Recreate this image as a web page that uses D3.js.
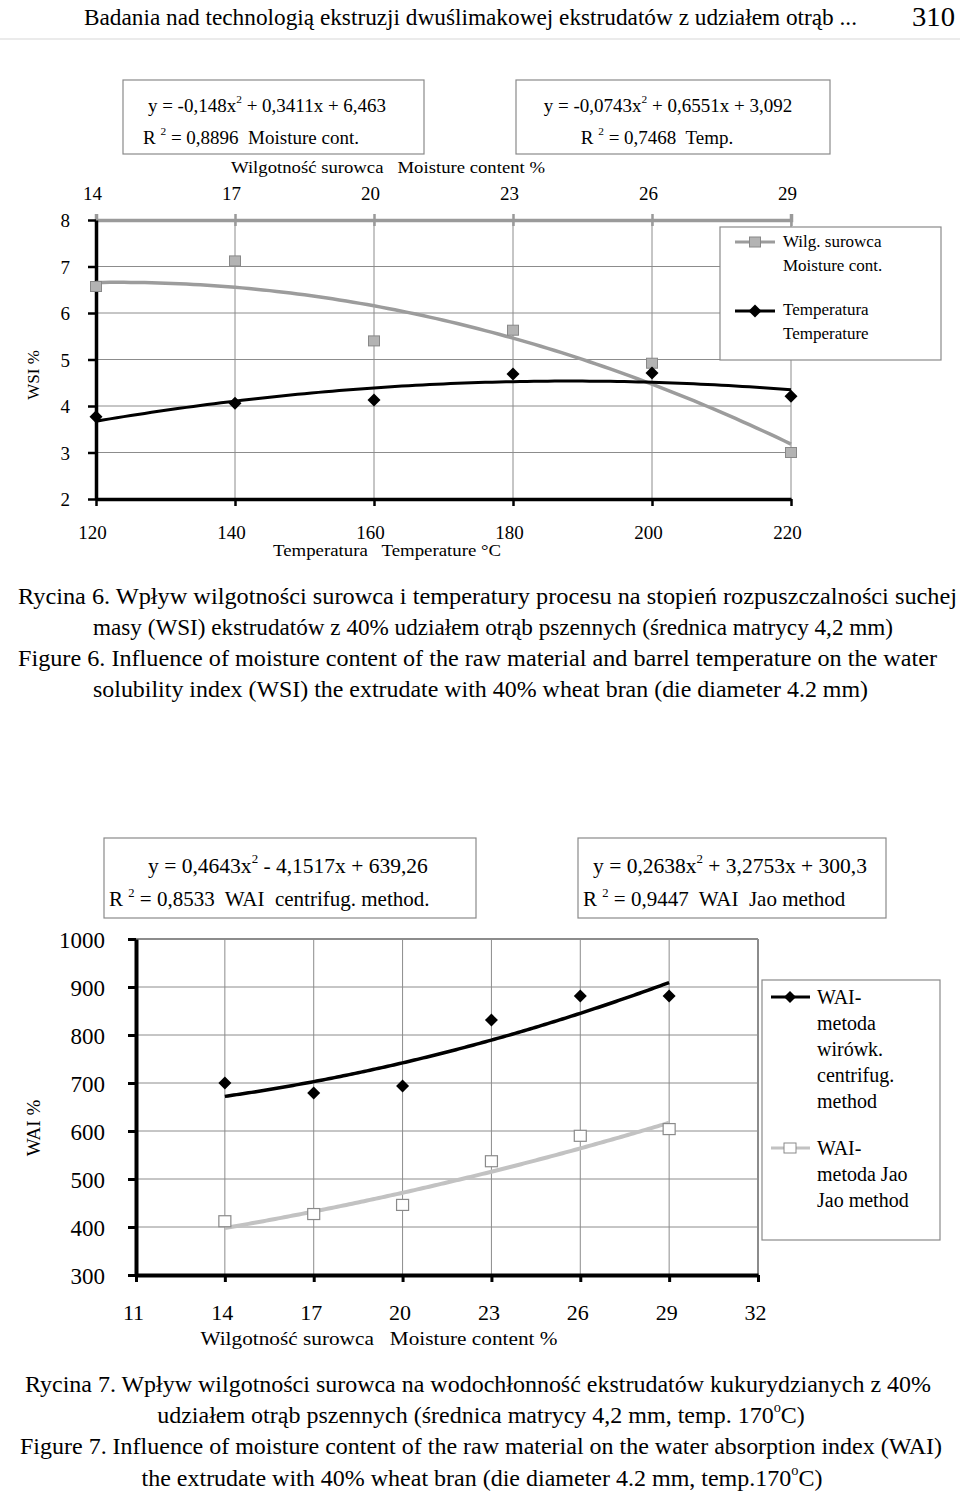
<!DOCTYPE html>
<html><head><meta charset="utf-8">
<script src="https://cdn.jsdelivr.net/npm/d3@7"></script>
<style>
body{margin:0;background:#fff}
svg{display:block}
text{font-family:"Liberation Serif","Times New Roman",serif;fill:#000;white-space:pre}
</style>
</head><body><svg id="c" width="960" height="1491"></svg>
<script>
// ---------- DATA ----------
// Figure 6 (WSI)
const temperatureTicks = [120, 140, 160, 180, 200, 220];
const moistureTicks1 = [14, 17, 20, 23, 26, 29];
const wsiTicks = [2, 3, 4, 5, 6, 7, 8];
const wsiMoisture = [6.57, 7.12, 5.40, 5.63, 4.92, 3.00];     // gray squares, vs moisture 14..29
const wsiTemperature = [3.77, 4.06, 4.13, 4.69, 4.71, 4.21];  // black diamonds, vs temperature 120..220
const fitMoisture = [-0.148, 0.3411, 6.463];     // printed trend coefficients (x = point number 1..6)
const fitTemperature = [-0.0743, 0.6551, 3.092];

// Figure 7 (WAI)
const moistureTicks2 = [11, 14, 17, 20, 23, 26, 29, 32];
const moisture2 = [14, 17, 20, 23, 26, 29];
const waiTicks = [300, 400, 500, 600, 700, 800, 900, 1000];
const waiCentrifug = [700, 679, 694, 831, 881, 881];
const waiJao = [412, 427, 446, 537, 590, 604];
const fitCentrifug = [0.4643, -4.1517, 639.26];  // printed trend coefficients (x = moisture %)
const fitJao = [0.2638, 3.2753, 300.3];

// ---------- HELPERS ----------
const svg = d3.select("#c");
const FONT = '"Liberation Serif","Times New Roman",serif';
const poly = (c, x) => c[0] * x * x + c[1] * x + c[2];
const diamond = h => `M0,${-h}L${h},0L0,${h}L${-h},0Z`;

function txt(x, y, s, size, opts = {}) {
  const t = svg.append("text").attr("x", x).attr("y", y).attr("font-size", size).text(s);
  if (opts.anchor) t.attr("text-anchor", opts.anchor);
  if (opts.len) t.attr("textLength", opts.len).attr("lengthAdjust", "spacingAndGlyphs");
  return t;
}
function supText(x, y, parts, size, anchor) {
  const t = svg.append("text").attr("x", x).attr("y", y).attr("font-size", size);
  if (anchor) t.attr("text-anchor", anchor);
  let raised = false;
  parts.forEach(([s, sup]) => {
    const sp = t.append("tspan").text(s);
    if (sup) { sp.attr("font-size", size * 0.6).attr("dy", -size * 0.45); raised = true; }
    else if (raised) { sp.attr("dy", size * 0.45); raised = false; }
  });
  return t;
}
function box(x, y, w, h) {
  svg.append("rect").attr("x", x).attr("y", y).attr("width", w).attr("height", h)
    .attr("fill", "#fff").attr("stroke", "#8a8a8a").attr("stroke-width", 1.2);
}
function styleTicks(sel, size) {
  sel.selectAll(".tick text").attr("font-size", size).attr("font-family", FONT).attr("fill", "#000");
}

// ---------- HEADER ----------
txt(84, 25, "Badania nad technologią ekstruzji dwuślimakowej ekstrudatów z udziałem otrąb ...", 24, {len: 773});
txt(912, 26, "310", 27, {len: 43});
svg.append("line").attr("x1", 0).attr("x2", 960).attr("y1", 39).attr("y2", 39).attr("stroke", "#e4e4e4").attr("stroke-width", 1.5);

// ---------- FIGURE 6 ----------
{
  const L = 96, R = 791, T = 220, B = 499;
  const xT = d3.scaleLinear().domain([120, 220]).range([L, R]);
  const xM = d3.scaleLinear().domain([14, 29]).range([L, R]);
  const xI = d3.scaleLinear().domain([1, 6]).range([L, R]);
  const y = d3.scaleLinear().domain([2, 8]).range([B, T]);
  const g = svg.append("g");

  g.selectAll(".gv").data(temperatureTicks.slice(1)).join("line")
    .attr("x1", d => xT(d)).attr("x2", d => xT(d)).attr("y1", T).attr("y2", B)
    .attr("stroke", "#8c8c8c").attr("stroke-width", 1);
  g.selectAll(".gh").data(wsiTicks.slice(1, -1)).join("line")
    .attr("x1", L).attr("x2", R).attr("y1", d => y(d)).attr("y2", d => y(d))
    .attr("stroke", "#8c8c8c").attr("stroke-width", 1);

  const top = g.append("g").attr("transform", `translate(0,${T})`)
    .call(d3.axisTop(xM).tickValues(moistureTicks1).tickSize(6).tickPadding(0));
  top.select(".domain").attr("stroke", "#9a9a9a").attr("stroke-width", 3.5);
  top.selectAll(".tick line").attr("stroke", "#9a9a9a").attr("stroke-width", 2.5).attr("y1", 6);
  top.selectAll(".tick text").attr("y", -27).attr("dy", "0.35em").attr("dx", -4);
  styleTicks(top, 19);

  const bot = g.append("g").attr("transform", `translate(0,${B})`)
    .call(d3.axisBottom(xT).tickValues(temperatureTicks).tickSize(7).tickSizeOuter(0));
  bot.select(".domain").attr("stroke", "#000").attr("stroke-width", 3.5);
  bot.selectAll(".tick line").attr("stroke", "#000").attr("stroke-width", 2.5);
  bot.selectAll(".tick text").attr("y", 33).attr("dy", "0.35em").attr("dx", -4);
  styleTicks(bot, 19);

  const lef = g.append("g").attr("transform", `translate(${L},0)`)
    .call(d3.axisLeft(y).tickValues(wsiTicks).tickSize(8).tickSizeOuter(0).tickFormat(d3.format("d")));
  lef.select(".domain").attr("stroke", "#000").attr("stroke-width", 3.5);
  lef.selectAll(".tick line").attr("stroke", "#000").attr("stroke-width", 2.5);
  lef.selectAll(".tick text").attr("x", -26).attr("dy", "0.35em");
  styleTicks(lef, 19);

  const steps = d3.range(1, 6.001, 0.05);
  const line = c => d3.line().x(i => xI(i)).y(i => y(poly(c, i)))(steps);
  g.append("path").attr("d", line(fitMoisture)).attr("fill", "none").attr("stroke", "#9c9c9c").attr("stroke-width", 3.5);
  g.append("path").attr("d", line(fitTemperature)).attr("fill", "none").attr("stroke", "#000").attr("stroke-width", 3);

  g.selectAll(".sq").data(wsiMoisture).join("rect")
    .attr("x", (d, i) => xM(moistureTicks1[i]) - 5.5).attr("y", d => y(d) - 5)
    .attr("width", 11).attr("height", 10).attr("fill", "#b3b3b3").attr("stroke", "#888").attr("stroke-width", 1);
  g.selectAll(".dm").data(wsiTemperature).join("path")
    .attr("transform", (d, i) => `translate(${xT(temperatureTicks[i])},${y(d)})`)
    .attr("d", diamond(6.5)).attr("fill", "#000");

  txt(388, 173, "Wilgotność surowca   Moisture content %", 17, {anchor: "middle", len: 314});
  txt(387, 556, "Temperatura   Temperature °C", 17, {anchor: "middle", len: 228});
  txt(0, 0, "WSI %", 17, {anchor: "middle"}).attr("transform", "translate(39,375) rotate(-90)");

  // legend
  box(720, 227, 221, 133);
  svg.append("line").attr("x1", 735).attr("x2", 775).attr("y1", 242).attr("y2", 242).attr("stroke", "#9c9c9c").attr("stroke-width", 3);
  svg.append("rect").attr("x", 749.5).attr("y", 237).attr("width", 11).attr("height", 10).attr("fill", "#b3b3b3").attr("stroke", "#888");
  txt(783, 247, "Wilg. surowca", 17);
  txt(783, 271, "Moisture cont.", 17);
  svg.append("line").attr("x1", 735).attr("x2", 775).attr("y1", 311).attr("y2", 311).attr("stroke", "#000").attr("stroke-width", 3);
  svg.append("path").attr("transform", "translate(755,311)").attr("d", diamond(6.5)).attr("fill", "#000");
  txt(783, 315, "Temperatura", 17);
  txt(783, 339, "Temperature", 17);

  // equation boxes
  box(123, 80, 301, 74);
  supText(267, 112, [["y = -0,148x"], ["2", true], [" + 0,3411x + 6,463"]], 19, "middle");
  supText(143, 144, [["R "], ["2", true], [" = 0,8896  Moisture cont."]], 19);
  box(516, 80, 314, 74);
  supText(668, 112, [["y = -0,0743x"], ["2", true], [" + 0,6551x + 3,092"]], 19, "middle");
  supText(657, 144, [["R "], ["2", true], [" = 0,7468  Temp."]], 19, "middle");
}

// ---------- CAPTION 6 ----------
txt(18, 604, "Rycina 6. Wpływ wilgotności surowca i temperatury procesu na stopień rozpuszczalności suchej", 24, {len: 939});
txt(93, 635, "masy (WSI) ekstrudatów z 40% udziałem otrąb pszennych (średnica matrycy 4,2 mm)", 24, {len: 800});
txt(18, 666, "Figure 6. Influence of moisture content of the raw material and barrel temperature on the water", 24, {len: 919});
txt(93, 697, "solubility index (WSI) the extrudate with 40% wheat bran (die diameter 4.2 mm)", 24, {len: 775});

// ---------- FIGURE 7 ----------
{
  const L = 136, R = 758, T = 939, B = 1275;
  const x = d3.scaleLinear().domain([11, 32]).range([L, R]);
  const y = d3.scaleLinear().domain([300, 1000]).range([B, T]);
  const g = svg.append("g");

  g.selectAll(".gv").data(moistureTicks2.slice(1, -1)).join("line")
    .attr("x1", d => x(d)).attr("x2", d => x(d)).attr("y1", T).attr("y2", B)
    .attr("stroke", "#8c8c8c").attr("stroke-width", 1);
  g.selectAll(".gh").data(waiTicks.slice(1, -1)).join("line")
    .attr("x1", L).attr("x2", R).attr("y1", d => y(d)).attr("y2", d => y(d))
    .attr("stroke", "#8c8c8c").attr("stroke-width", 1);
  g.append("line").attr("x1", L).attr("x2", R).attr("y1", T).attr("y2", T).attr("stroke", "#8c8c8c").attr("stroke-width", 2);
  g.append("line").attr("x1", R).attr("x2", R).attr("y1", T).attr("y2", B).attr("stroke", "#8c8c8c").attr("stroke-width", 2);

  const bot = g.append("g").attr("transform", `translate(0,${B})`)
    .call(d3.axisBottom(x).tickValues(moistureTicks2).tickSize(7).tickSizeOuter(0));
  bot.select(".domain").attr("stroke", "#000").attr("stroke-width", 4);
  bot.selectAll(".tick line").attr("stroke", "#000").attr("stroke-width", 3);
  bot.selectAll(".tick text").attr("y", 37).attr("dy", "0.35em").attr("dx", -3);
  styleTicks(bot, 22);

  const lef = g.append("g").attr("transform", `translate(${L},0)`)
    .call(d3.axisLeft(y).tickValues(waiTicks).tickSize(8).tickSizeOuter(0).tickFormat(d3.format("d")));
  lef.select(".domain").attr("stroke", "#000").attr("stroke-width", 4);
  lef.selectAll(".tick line").attr("stroke", "#000").attr("stroke-width", 3);
  lef.selectAll(".tick text").attr("x", -31).attr("dy", "0.35em");
  styleTicks(lef, 23);

  const steps = d3.range(14, 29.001, 0.1);
  const line = c => d3.line().x(m => x(m)).y(m => y(poly(c, m)))(steps);
  g.append("path").attr("d", line(fitJao)).attr("fill", "none").attr("stroke", "#c2c2c2").attr("stroke-width", 4);
  g.append("path").attr("d", line(fitCentrifug)).attr("fill", "none").attr("stroke", "#000").attr("stroke-width", 3.5);

  g.selectAll(".sq").data(waiJao).join("rect")
    .attr("x", (d, i) => x(moisture2[i]) - 6).attr("y", d => y(d) - 5.5)
    .attr("width", 12).attr("height", 11).attr("fill", "#fff").attr("stroke", "#8a8a8a").attr("stroke-width", 1.2);
  g.selectAll(".dm").data(waiCentrifug).join("path")
    .attr("transform", (d, i) => `translate(${x(moisture2[i])},${y(d)})`)
    .attr("d", diamond(6.5)).attr("fill", "#000");

  txt(379, 1345, "Wilgotność surowca   Moisture content %", 19, {anchor: "middle", len: 357});
  txt(0, 0, "WAI %", 19, {anchor: "middle"}).attr("transform", "translate(40,1128) rotate(-90)");

  // legend
  box(762, 980, 178, 260);
  svg.append("line").attr("x1", 771).attr("x2", 810).attr("y1", 997).attr("y2", 997).attr("stroke", "#000").attr("stroke-width", 3);
  svg.append("path").attr("transform", "translate(790,997)").attr("d", diamond(6)).attr("fill", "#000");
  ["WAI-", "metoda", "wirówk.", "centrifug.", "method"].forEach((s, i) => txt(817, 1004 + i * 26, s, 20));
  svg.append("line").attr("x1", 771).attr("x2", 810).attr("y1", 1148).attr("y2", 1148).attr("stroke", "#c2c2c2").attr("stroke-width", 3);
  svg.append("rect").attr("x", 784).attr("y", 1143).attr("width", 12).attr("height", 10).attr("fill", "#fff").attr("stroke", "#8a8a8a");
  ["WAI-", "metoda Jao", "Jao method"].forEach((s, i) => txt(817, 1155 + i * 26, s, 20));

  // equation boxes
  box(104, 838, 372, 80);
  supText(288, 873, [["y = 0,4643x"], ["2", true], [" - 4,1517x + 639,26"]], 21.5, "middle");
  supText(109, 906, [["R "], ["2", true], [" = 0,8533  WAI  centrifug. method."]], 21);
  box(578, 838, 308, 80);
  supText(730, 873, [["y = 0,2638x"], ["2", true], [" + 3,2753x + 300,3"]], 21.5, "middle");
  supText(583, 906, [["R "], ["2", true], [" = 0,9447  WAI  Jao method"]], 21);
}

// ---------- CAPTION 7 ----------
txt(25, 1392, "Rycina 7. Wpływ wilgotności surowca na wodochłonność ekstrudatów kukurydzianych z 40%", 24, {len: 906});
supText(481, 1423, [["udziałem otrąb pszennych (średnica matrycy 4,2 mm, temp. 170"], ["o", true], ["C)"]], 24, "middle");
txt(20, 1454, "Figure 7. Influence of moisture content of the raw material on the water absorption index (WAI)", 24, {len: 922});
supText(482, 1486, [["the extrudate with 40% wheat bran (die diameter 4.2 mm, temp.170"], ["o", true], ["C)"]], 24, "middle");
</script>
</body></html>
